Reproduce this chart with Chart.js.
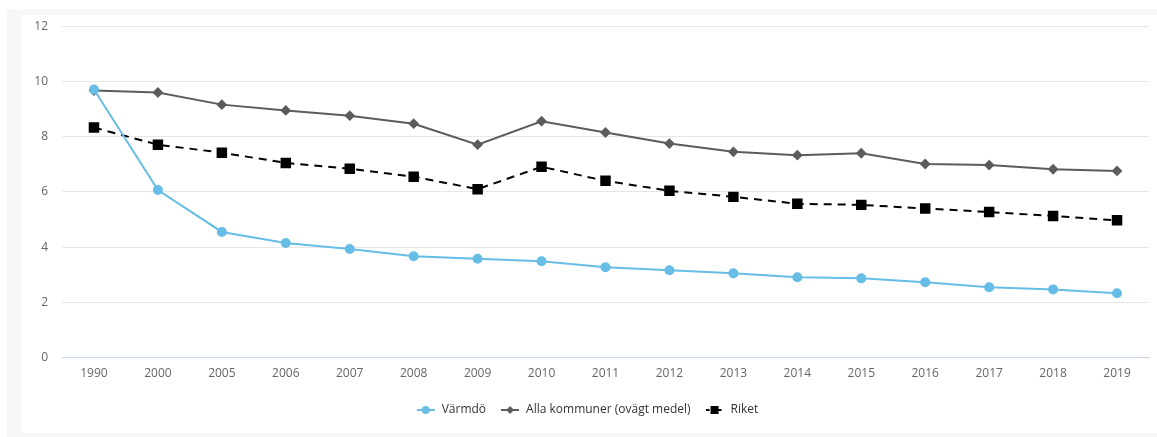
<!DOCTYPE html>
<html>
<head>
<meta charset="utf-8">
<script src="https://cdn.jsdelivr.net/npm/chart.js@4"></script>
<style>
    html, body { margin: 0; padding: 0; background: #fff; }
    #frame { position: absolute; left: 7px; top: 9px; width: 1150px; height: 428px; background: #f7f7f7; }
    #card { position: absolute; left: 22px; top: 15px; width: 1135px; height: 418px; background: #fff; }
</style>
</head>
<body>
<div id="frame"></div>
<div id="card"><canvas id="chart" width="1135" height="418"></canvas></div>
<script>
const years = ['1990', '2000', '2005', '2006', '2007', '2008', '2009', '2010', '2011', '2012', '2013', '2014', '2015', '2016', '2017', '2018', '2019'];
const varmdo = [9.71, 6.07, 4.55, 4.15, 3.93, 3.67, 3.58, 3.49, 3.27, 3.16, 3.05, 2.91, 2.87, 2.73, 2.55, 2.47, 2.33];
const allaKommuner = [9.67, 9.6, 9.16, 8.95, 8.76, 8.47, 7.71, 8.56, 8.15, 7.75, 7.45, 7.33, 7.4, 7.01, 6.97, 6.82, 6.76];
const riket = [8.33, 7.71, 7.42, 7.05, 6.84, 6.55, 6.1, 6.91, 6.4, 6.04, 5.82, 5.57, 5.53, 5.4, 5.27, 5.13, 4.97];
const yTicks = [0, 2, 4, 6, 8, 10, 12];

// legend icon: short line with the marker on it
function legendIcon(color, shape, dashed) {
    const c = document.createElement('canvas');
    c.width = 18; c.height = 10;
    const g = c.getContext('2d');
    g.strokeStyle = color;
    g.fillStyle = color;
    g.lineWidth = 2;
    if (dashed) g.setLineDash([4, 2]);
    g.beginPath();
    g.moveTo(0, 5); g.lineTo(18, 5);
    g.stroke();
    g.beginPath();
    if (shape === 'circle') {
        g.arc(9, 5, 4, 0, Math.PI * 2);
    } else if (shape === 'diamond') {
        g.moveTo(9, 1); g.lineTo(13, 5); g.lineTo(9, 9); g.lineTo(5, 5); g.closePath();
    } else {
        g.rect(5, 1, 8, 8);
    }
    g.fill();
    return c;
}

const blue = '#66bde6';
const gray = '#5c5c5c';
const black = '#000000';

new Chart(document.getElementById('chart'), {
    type: 'line',
    data: {
        labels: years,
        datasets: [{
            label: 'Värmdö',
            data: varmdo,
            borderColor: blue,
            backgroundColor: blue,
            borderWidth: 2,
            pointStyle: 'circle',
            pointRadius: 4,
            pointHoverRadius: 4,
            tension: 0
        }, {
            label: 'Alla kommuner (ovägt medel)',
            data: allaKommuner,
            borderColor: gray,
            backgroundColor: gray,
            borderWidth: 2,
            pointStyle: 'rectRot',
            pointRadius: 4,
            pointHoverRadius: 4,
            tension: 0
        }, {
            label: 'Riket',
            data: riket,
            borderColor: black,
            backgroundColor: black,
            borderWidth: 2,
            borderDash: [8, 6],
            pointStyle: 'rect',
            pointRadius: 6,
            pointHoverRadius: 6,
            tension: 0
        }]
    },
    options: {
        responsive: false,
        animation: false,
        layout: { padding: { top: 1, right: 5, left: 0, bottom: 7 } },
        scales: {
            x: {
                offset: true,
                grid: { display: false, drawTicks: false },
                border: { color: '#ccd6eb', width: 1 },
                ticks: { color: '#666', font: { family: 'Open Sans', size: 12 }, padding: 9, maxRotation: 0 }
            },
            y: {
                min: 0,
                max: 12,
                afterBuildTicks: (axis) => { axis.ticks = yTicks.map(v => ({ value: v })); },
                afterFit: (axis) => { axis.width = 40; },
                grid: { color: '#e6e6e6', drawTicks: true, tickLength: 10, tickColor: 'rgba(0,0,0,0)' },
                border: { display: false },
                ticks: { color: '#666', font: { family: 'Open Sans', size: 12 }, padding: 4 }
            }
        },
        plugins: {
            legend: {
                position: 'bottom',
                labels: {
                    color: '#333',
                    font: { family: 'Open Sans', size: 12 },
                    usePointStyle: true,
                    pointStyleWidth: 20,
                    padding: 14,
                    generateLabels: (chart) => {
                        const icons = [legendIcon(blue, 'circle'), legendIcon(gray, 'diamond'), legendIcon(black, 'square', true)];
                        return chart.data.datasets.map((ds, i) => ({
                            text: ds.label,
                            pointStyle: icons[i],
                            fontColor: '#333',
                            datasetIndex: i,
                            hidden: false,
                            lineWidth: 0
                        }));
                    }
                }
            },
            tooltip: { enabled: false }
        }
    }
});
</script>
</body>
</html>
